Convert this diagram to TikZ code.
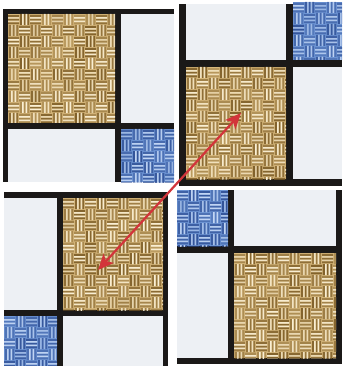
\documentclass[tikz,border=0pt]{standalone}
\usetikzlibrary{calc}
\definecolor{barblack}{HTML}{1B1918}
\definecolor{paneWhite}{HTML}{EDF0F4}
\definecolor{goldBase}{HTML}{D9BA7E}
\definecolor{goldDark}{HTML}{7A5A24}
\definecolor{goldLight}{HTML}{FAF0D6}
\definecolor{blueBase}{HTML}{7199D8}
\definecolor{blueDark}{HTML}{2C4C92}
\definecolor{blueLight}{HTML}{C4D7F4}
\definecolor{arrowRed}{HTML}{D2343A}
\newcommand\weavebox[7]{%
\begin{scope}
\clip (#1,#2) rectangle (#3,#4);
\fill[#5] (#1,#2) rectangle (#3,#4);
\pgfmathsetmacro\wxs{#1+11}\pgfmathsetmacro\wys{#2+11}
\foreach \cx in {#1,\wxs,...,#3}{
 \foreach \cy in {#2,\wys,...,#4}{
  \pgfmathtruncatemacro\wpar{mod(round((\cx-#1)/11)+round((\cy-#2)/11),2)}
  \pgfmathsetmacro\wop{0.3+0.6*rnd}
  \pgfmathsetmacro\wlo{0.5+0.5*rnd}
  \pgfmathsetmacro\wbl{0.25*rnd}
  \fill[#6,opacity=\wbl] (\cx,\cy) rectangle ++(11,11);
  \ifnum\wpar=0
   \fill[#6,opacity=\wop] (\cx,\cy+1.2) rectangle ++(11,1.8) (\cx,\cy+4.8) rectangle ++(11,1.8) (\cx,\cy+8.4) rectangle ++(11,1.8);
   \fill[#7,opacity=\wlo] (\cx,\cy+3.1) rectangle ++(11,1.5) (\cx,\cy+6.7) rectangle ++(11,1.5);
  \else
   \fill[#6,opacity=\wop] (\cx+1.2,\cy) rectangle ++(1.8,11) (\cx+4.8,\cy) rectangle ++(1.8,11) (\cx+8.4,\cy) rectangle ++(1.8,11);
   \fill[#7,opacity=\wlo] (\cx+3.1,\cy) rectangle ++(1.5,11) (\cx+6.7,\cy) rectangle ++(1.5,11);
  \fi
 }}
\end{scope}}
\tikzset{
  bars/.style={fill=barblack},
  plain/.style={fill=paneWhite},
  redline/.style={draw=arrowRed,line width=2.2pt},
  redtip/.style={fill=arrowRed}
}
\begin{document}
\begin{tikzpicture}[x=1pt,y=-1pt]
\pgfmathsetseed{7}
\useasboundingbox (0,0) rectangle (342,366);
\fill[white] (0,0) rectangle (342,366);
% top-left tile
\fill[bars] (3,9) rectangle (174,182);
\weavebox{8}{14}{115}{123}{goldBase}{goldDark}{goldLight}
\fill[plain] (121,14) rectangle (174,123);
\fill[plain] (8,129) rectangle (115,182);
\weavebox{121}{129}{174}{182}{blueBase}{blueDark}{blueLight}
% top-right tile
\fill[bars] (179,4) rectangle (342,186);
\fill[plain] (186,4) rectangle (286,60);
\weavebox{293}{2}{342}{60}{blueBase}{blueDark}{blueLight}
\weavebox{186}{67}{286}{179}{goldBase}{goldDark}{goldLight}
\fill[plain] (293,67) rectangle (342,179);
% bottom-left tile
\fill[bars] (4,192) rectangle (168,366);
\fill[plain] (4,198) rectangle (57,310);
\weavebox{63}{198}{163}{310}{goldBase}{goldDark}{goldLight}
\weavebox{4}{316}{57}{366}{blueBase}{blueDark}{blueLight}
\fill[plain] (63,316) rectangle (163,366);
% bottom-right tile
\fill[bars] (177,190) rectangle (342,364);
\weavebox{177}{190}{228}{246}{blueBase}{blueDark}{blueLight}
\fill[plain] (234,190) rectangle (336,246);
\fill[plain] (177,253) rectangle (228,358);
\weavebox{234}{253}{336}{358}{goldBase}{goldDark}{goldLight}
% arrow (double-headed)
\coordinate (ahead) at (241,113);
\coordinate (atail) at (98,270);
\coordinate (hb) at ($(ahead)!16pt!(atail)$);
\coordinate (tb) at ($(atail)!16pt!(ahead)$);
\draw[redline] ($(ahead)!10pt!(atail)$) -- ($(atail)!10pt!(ahead)$);
\fill[redtip] (ahead) -- ($(hb)!7pt!90:(ahead)$) -- ($(ahead)!12pt!(atail)$) -- ($(hb)!7pt!-90:(ahead)$) -- cycle;
\fill[redtip] (atail) -- ($(tb)!7pt!90:(atail)$) -- ($(atail)!12pt!(ahead)$) -- ($(tb)!7pt!-90:(atail)$) -- cycle;
\end{tikzpicture}
\end{document}
